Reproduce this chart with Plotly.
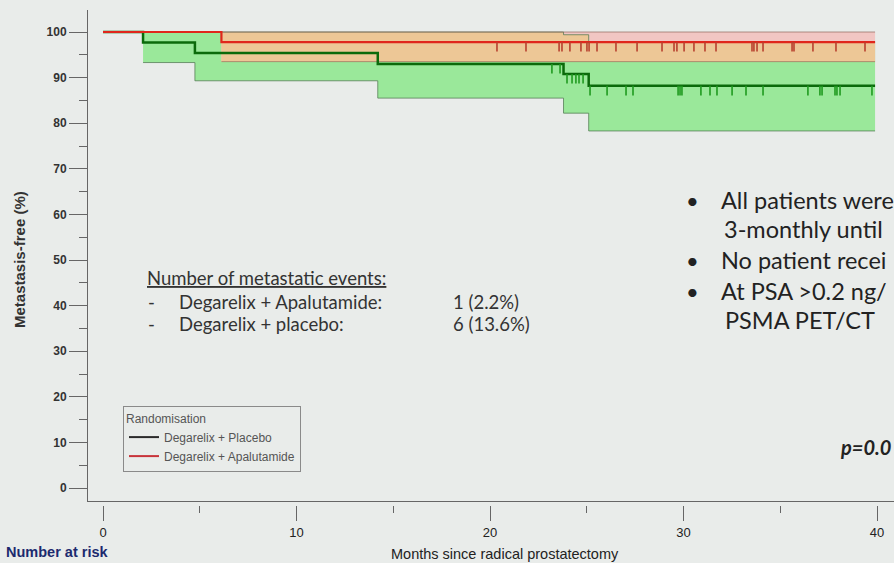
import plotly.graph_objects as go

# ---------------- data ----------------
placebo_time = [0, 2.07, 4.75, 14.2, 23.8, 25.1, 39.9]
placebo_surv = [100, 97.7, 95.4, 93.0, 90.8, 88.2, 88.2]
placebo_ci_time = [2.07, 4.75, 14.2, 23.8, 25.1, 39.9]
placebo_ci_lower = [93.3, 89.3, 85.5, 82.2, 78.3, 78.3]
placebo_ci_upper = [100, 100, 100, 99.4, 97.8, 97.8]

apa_time = [0, 6.12, 39.9]
apa_surv = [100, 97.8, 97.8]
apa_ci_time = [6.12, 39.9]
apa_ci_lower = [93.5, 93.5]
apa_ci_upper = [100, 100]

apa_censor = [20.36, 21.86, 23.57, 23.72, 24.13, 24.70, 25.01, 25.12, 25.53,
              26.51, 27.60, 28.89, 29.51, 29.66, 30.03, 30.54, 31.11, 31.68,
              33.54, 33.64, 33.80, 34.11, 35.61, 35.71, 36.69, 37.88, 39.38]
placebo_censor = [23.20, 23.62, 23.98, 24.24, 24.44, 24.60, 24.81, 25.17,
                  26.05, 27.03, 27.39, 29.72, 29.82, 29.92, 30.90, 31.37,
                  31.73, 32.51, 33.23, 34.11, 36.43, 37.05, 37.16, 37.83,
                  37.93, 38.09, 39.74]

x_ticks = [0, 10, 20, 30, 40]
y_ticks = [0, 10, 20, 30, 40, 50, 60, 70, 80, 90, 100]

legend_names = ["Degarelix + Placebo", "Degarelix + Apalutamide"]


def step_at(times, vals, t):
    v = vals[0]
    for ti, vi in zip(times, vals):
        if ti <= t + 1e-9:
            v = vi
    return v


# overlap of the two confidence bands
ov_start = max(placebo_ci_time[0], apa_ci_time[0])
ov_time = sorted(set([t for t in placebo_ci_time + apa_ci_time if t >= ov_start]))
ov_lower = [max(step_at(placebo_ci_time, placebo_ci_lower, t),
                step_at(apa_ci_time, apa_ci_lower, t)) for t in ov_time]
ov_upper = [min(step_at(placebo_ci_time, placebo_ci_upper, t),
                step_at(apa_ci_time, apa_ci_upper, t)) for t in ov_time]

GREEN_FILL = "#9ae89a"
PINK_FILL = "#f1c6c3"
ORANGE_FILL = "#edc796"
BG = "#e9ecea"

fig = go.Figure()


def band(t, lo, hi, color):
    fig.add_trace(go.Scatter(x=t, y=lo, mode="lines", line=dict(width=0, shape="hv"),
                             showlegend=False, hoverinfo="skip"))
    fig.add_trace(go.Scatter(x=t, y=hi, mode="lines", line=dict(width=0, shape="hv"),
                             fill="tonexty", fillcolor=color, showlegend=False,
                             hoverinfo="skip"))


band(placebo_ci_time, placebo_ci_lower, placebo_ci_upper, GREEN_FILL)
band(apa_ci_time, apa_ci_lower, apa_ci_upper, PINK_FILL)
band(ov_time, ov_lower, ov_upper, ORANGE_FILL)

# band borders
for t, yv, c in [(placebo_ci_time, placebo_ci_lower, "rgba(80,120,80,0.75)"),
                 (placebo_ci_time, placebo_ci_upper, "rgba(80,120,80,0.75)"),
                 (apa_ci_time, apa_ci_lower, "rgba(150,120,90,0.75)"),
                 (apa_ci_time, apa_ci_upper, "rgba(150,110,100,0.75)")]:
    fig.add_trace(go.Scatter(x=t, y=yv, mode="lines",
                             line=dict(width=1, shape="hv", color=c),
                             showlegend=False, hoverinfo="skip"))

# survival curves
fig.add_trace(go.Scatter(x=placebo_time, y=placebo_surv, mode="lines",
                         line=dict(width=2.5, shape="hv", color="#0b6a0b"),
                         showlegend=False))
fig.add_trace(go.Scatter(x=apa_time, y=apa_surv, mode="lines",
                         line=dict(width=2.2, shape="hv", color="#e0261c"),
                         showlegend=False))

# censor marks
for cens, tt, ss, col in [(placebo_censor, placebo_time, placebo_surv, "#1f9a1f"),
                          (apa_censor, apa_time, apa_surv, "#b8402e")]:
    fig.add_trace(go.Scatter(
        x=cens, y=[step_at(tt, ss, c) for c in cens], mode="markers",
        marker=dict(size=1, color="rgba(0,0,0,0)"),
        error_y=dict(type="constant", value=0, valueminus=2.1, symmetric=False,
                     width=0, thickness=1.6, color=col),
        showlegend=False, hoverinfo="skip"))

# legend entries
for name, col in zip(legend_names, ["#2a2a2a", "#c8343a"]):
    fig.add_trace(go.Scatter(x=[None], y=[None], mode="lines", name=name,
                             line=dict(color=col, width=2), xaxis="x2"))

W, H = 894, 563
L, R, T, B = 88, 0, 10, 58
PW, PH = W - L - R, H - T - B


def px(x):
    return (x - L) / PW


def py(y):
    return (H - B - y) / PH


narrow = "Liberation Sans Narrow, Arial Narrow, Liberation Sans, Arial"
calibri = "Lato, Carlito, Calibri, Open Sans, sans-serif"

ann = []


def text(x, y, s, size, color="#333", family=calibri, xanchor="left", **kw):
    ann.append(dict(x=px(x), y=py(y), xref="paper", yref="paper", text=s,
                    showarrow=False, xanchor=xanchor, yanchor="middle",
                    font=dict(size=size, color=color, family=family), **kw))


text(19, 260, "<b>Metastasis-free (%)</b>", 15, "#333", "Liberation Sans, Arial",
     xanchor="center", textangle=-90)
text(505, 554, "Months since radical prostatectomy", 14.5, "#222", narrow, xanchor="center")
text(4, 552, "<b>Number at risk</b>", 14.5, "#1c2a6e", "Liberation Sans, Arial")

text(145, 278, "<u>Number of metastatic events:</u>", 18.5)
text(146, 302, "-", 18.5)
text(177, 302, "Degarelix + Apalutamide:", 18.5)
text(451, 302, "1 (2.2%)", 18.5)
text(146, 324, "-", 18.5)
text(177, 324, "Degarelix + placebo:", 18.5)
text(451, 324, "6 (13.6%)", 18.5)

text(684, 200, "•", 22, "#222")
text(719, 200, "All patients were", 23.5, "#222")
text(722, 229, "3-monthly until", 23.5, "#222")
text(684, 260, "•", 22, "#222")
text(719, 260, "No patient recei", 23.5, "#222")
text(684, 291, "•", 22, "#222")
text(719, 291, "At PSA >0.2 ng/", 23.5, "#222")
text(723, 320, "PSMA PET/CT", 23.5, "#222")

text(838, 447, "<b><i>p=0.0</i></b>", 20, "#222", "Lato, Open Sans, sans-serif")

xr = [(L - 103) / 19.35, (W - 103) / 19.35]
yr = [(488 - 501) / 4.56, 100 + (32 - T) / 4.56]

fig.update_layout(
    width=W, height=H,
    margin=dict(l=L, r=R, t=T, b=B, pad=0),
    paper_bgcolor=BG, plot_bgcolor=BG,
    showlegend=True,
    legend=dict(x=px(123), y=py(406), xanchor="left", yanchor="top",
                bgcolor=BG, bordercolor="#8a8a8a", borderwidth=1,
                title=dict(text="Randomisation", font=dict(size=12, color="#555",
                                                           family="Liberation Sans, Arial")),
                font=dict(size=12, color="#555", family="Liberation Sans, Arial"),
                traceorder="normal", tracegroupgap=0,
                itemwidth=30),
    xaxis=dict(range=xr, anchor="free", position=0, showline=False,
               ticks="outside", ticklen=15, tickwidth=1, tickcolor="#666",
               tickvals=x_ticks, ticktext=[str(v) for v in x_ticks],
               minor=dict(dtick=5, tick0=0, ticks="outside", ticklen=7, tickcolor="#666"),
               showgrid=False, zeroline=False,
               tickfont=dict(family=narrow, size=13, color="#222")),
    xaxis2=dict(range=xr, overlaying="x", anchor="y", side="bottom",
                showline=True, linecolor="#666", linewidth=1, ticks="",
                showticklabels=False, showgrid=False, zeroline=False),
    yaxis=dict(domain=[(H - B - 501) / PH, 1], range=yr,
               showline=True, linecolor="#666", linewidth=1,
               ticks="outside", ticklen=18, tickwidth=1, tickcolor="#666",
               tickvals=y_ticks, ticktext=[str(v) for v in y_ticks],
               minor=dict(dtick=5, tick0=0, ticks="outside", ticklen=8, tickcolor="#666"),
               showgrid=False, zeroline=False,
               tickfont=dict(family="Liberation Sans, Arial", size=12, color="#333",
                             weight="bold")),
    annotations=ann,
)

fig.write_html(
    "out.html",
    config={"displayModeBar": False},
    post_script="document.body.style.margin='0';document.body.style.overflow='hidden';",
)
